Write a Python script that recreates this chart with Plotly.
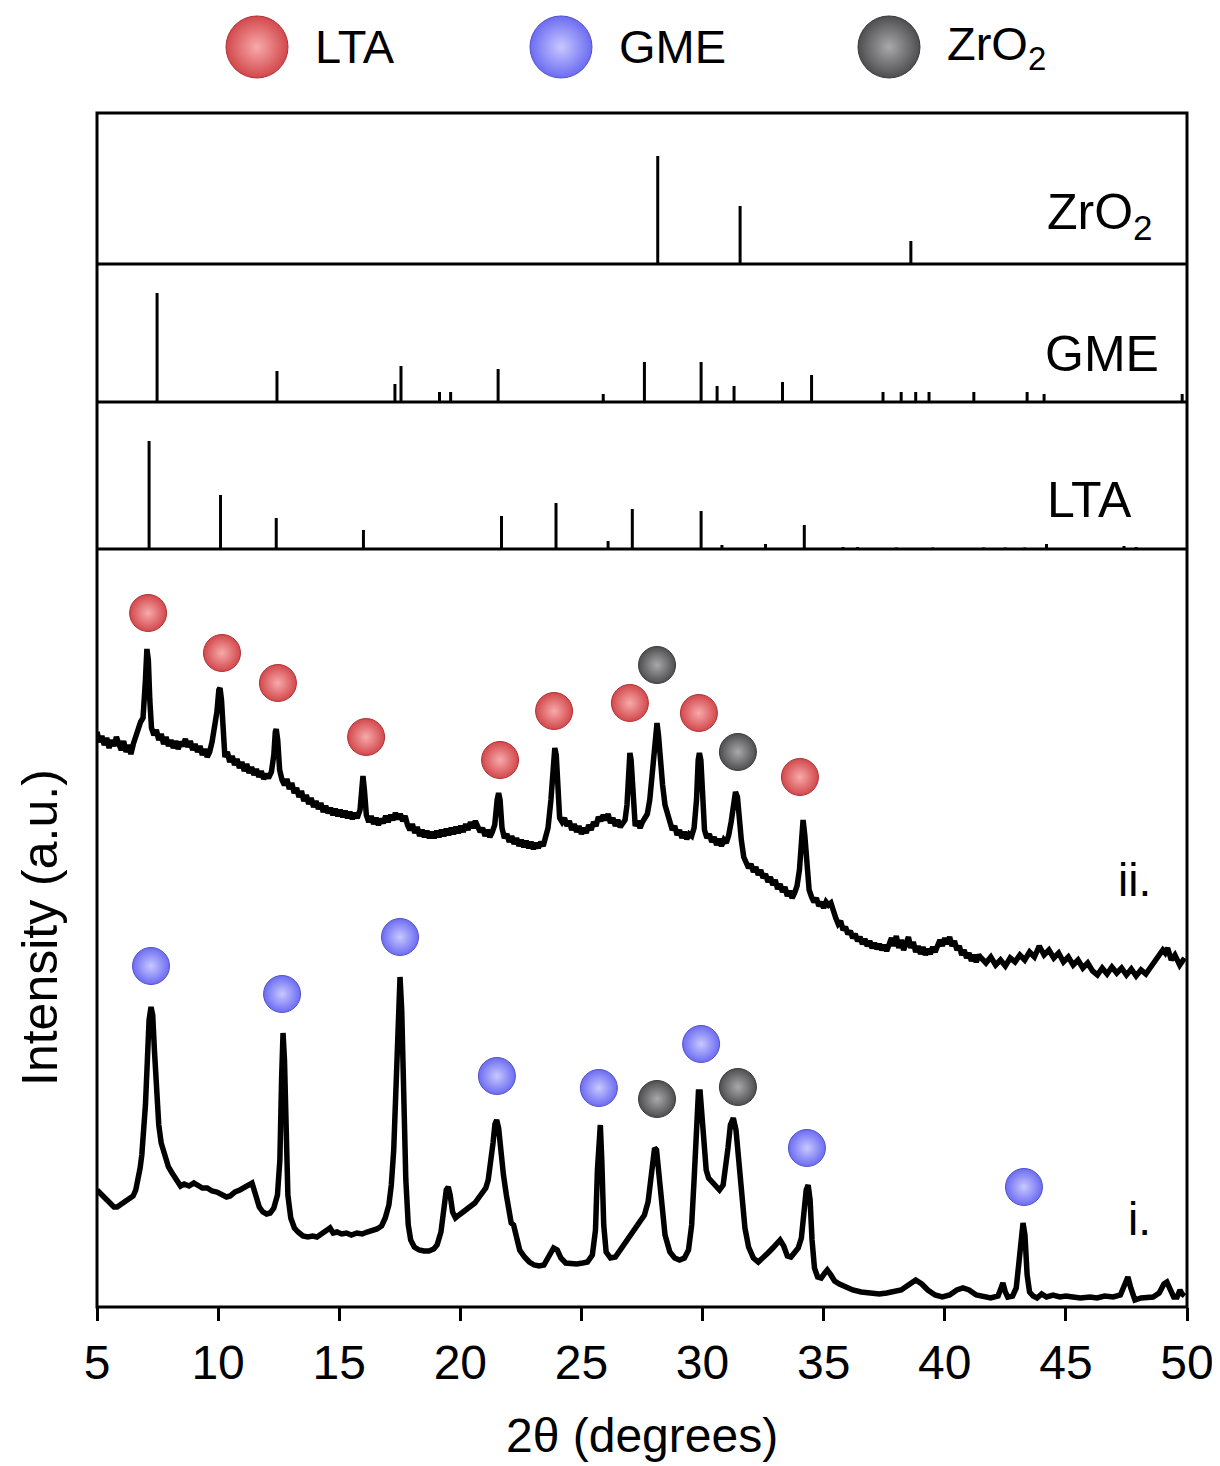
import plotly.graph_objects as go

FONT = "Liberation Sans, Arial, sans-serif"

# ---------------- reference stick patterns ----------------
zro2_pos = [28.15, 31.55, 38.6]
zro2_int = [108, 58, 23]

gme_pos = [7.48, 12.43, 17.3, 17.55, 19.14, 19.6, 21.56, 25.9, 27.6, 29.94, 30.6,
           31.3, 33.3, 34.5, 37.45, 38.2, 38.8, 39.35, 41.2, 43.4, 44.1, 49.8]
gme_int = [109, 31, 18, 36, 10, 10, 33, 8, 40, 40, 16,
           16, 20, 27, 10, 10, 10, 10, 10, 10, 8, 8]

lta_pos = [7.15, 10.1, 12.4, 16.0, 21.7, 23.95, 26.1, 27.1, 29.94, 30.8, 32.6,
           34.2, 35.8, 36.4, 38.0, 39.5, 41.6, 42.5, 43.3, 44.2, 47.4, 47.9]
lta_int = [108, 54, 31, 19, 33, 46, 8, 40, 38, 4, 5,
           24, 2, 2, 1.5, 1.5, 1.5, 1.5, 1.5, 5, 3, 2]

# ---------------- measured pattern ii (upper) ----------------
ii_x = [5.00, 5.10, 5.20, 5.30, 5.40, 5.50, 5.60, 5.70, 5.80, 5.90, 6.00, 6.10, 6.20, 6.30, 6.40,
        6.50, 6.60, 6.70, 6.80, 6.90, 6.95, 7.00, 7.06, 7.12, 7.18, 7.25, 7.35, 7.45, 7.55, 7.65,
        7.75, 7.85, 7.95, 8.05, 8.15, 8.25, 8.35, 8.45, 8.55, 8.65, 8.75, 8.85, 8.95, 9.05, 9.15,
        9.25, 9.35, 9.45, 9.55, 9.65, 9.75, 9.85, 9.95, 10.03, 10.08, 10.14, 10.20, 10.28, 10.38,
        10.48, 10.58, 10.68, 10.78, 10.88, 10.98, 11.08, 11.18, 11.28, 11.38, 11.48, 11.58, 11.68,
        11.78, 11.88, 11.98, 12.08, 12.20, 12.30, 12.36, 12.40, 12.46, 12.54, 12.64, 12.74, 12.84,
        12.94, 13.04, 13.14, 13.24, 13.34, 13.44, 13.54, 13.64, 13.74, 13.84, 13.94, 14.04, 14.14,
        14.24, 14.34, 14.44, 14.54, 14.64, 14.74, 14.84, 14.94, 15.04, 15.14, 15.24, 15.34, 15.44,
        15.54, 15.64, 15.74, 15.86, 15.93, 15.98, 16.04, 16.12, 16.22, 16.32, 16.42, 16.52, 16.62,
        16.72, 16.82, 16.92, 17.02, 17.12, 17.22, 17.32, 17.42, 17.52, 17.62, 17.72, 17.82, 17.92,
        18.02, 18.12, 18.22, 18.32, 18.42, 18.52, 18.62, 18.72, 18.82, 18.92, 19.02, 19.12, 19.22,
        19.32, 19.42, 19.52, 19.62, 19.72, 19.82, 19.92, 20.02, 20.12, 20.22, 20.32, 20.42, 20.52,
        20.62, 20.72, 20.82, 20.92, 21.02, 21.12, 21.22, 21.32, 21.42, 21.52, 21.58, 21.64, 21.72,
        21.82, 21.92, 22.02, 22.12, 22.22, 22.32, 22.42, 22.52, 22.62, 22.72, 22.82, 22.92, 23.02,
        23.12, 23.22, 23.32, 23.42, 23.52, 23.62, 23.74, 23.84, 23.90, 23.96, 24.02, 24.10, 24.20,
        24.30, 24.40, 24.50, 24.60, 24.70, 24.80, 24.90, 25.00, 25.10, 25.20, 25.30, 25.40, 25.50,
        25.60, 25.70, 25.80, 25.90, 26.00, 26.10, 26.20, 26.30, 26.40, 26.50, 26.60, 26.70, 26.80,
        26.88, 26.95, 27.00, 27.05, 27.12, 27.22, 27.32, 27.42, 27.52, 27.62, 27.72, 27.82, 27.92,
        28.00, 28.06, 28.12, 28.18, 28.26, 28.35, 28.45, 28.55, 28.65, 28.75, 28.85, 28.95, 29.05,
        29.15, 29.25, 29.35, 29.45, 29.55, 29.65, 29.75, 29.82, 29.87, 29.93, 30.00, 30.08, 30.18,
        30.28, 30.38, 30.48, 30.58, 30.68, 30.78, 30.88, 30.98, 31.08, 31.18, 31.28, 31.36, 31.44,
        31.52, 31.60, 31.70, 31.80, 31.90, 32.00, 32.10, 32.20, 32.30, 32.40, 32.50, 32.60, 32.70,
        32.80, 32.90, 33.00, 33.10, 33.20, 33.30, 33.40, 33.50, 33.60, 33.70, 33.80, 33.90, 34.00,
        34.08, 34.15, 34.22, 34.30, 34.40, 34.50, 34.60, 34.70, 34.80, 34.90, 35.00, 35.10, 35.20,
        35.30, 35.40, 35.50, 35.60, 35.70, 35.80, 35.90, 36.00, 36.10, 36.20, 36.30, 36.40, 36.50,
        36.60, 36.70, 36.80, 36.90, 37.00, 37.10, 37.20, 37.30, 37.40, 37.50, 37.60, 37.70, 37.80,
        37.90, 38.00, 38.10, 38.20, 38.30, 38.40, 38.50, 38.60, 38.70, 38.80, 38.90, 39.00, 39.10,
        39.20, 39.30, 39.40, 39.50, 39.60, 39.70, 39.80, 39.90, 40.00, 40.10, 40.20, 40.30, 40.40,
        40.50, 40.60, 40.70, 40.80, 40.90, 41.00, 41.10, 41.20, 41.30, 41.40, 41.50, 41.70, 41.90,
        42.10, 42.30, 42.50, 42.70, 42.90, 43.10, 43.30, 43.50, 43.70, 43.90, 44.10, 44.30, 44.50,
        44.70, 44.90, 45.10, 45.30, 45.50, 45.70, 45.90, 46.10, 46.30, 46.50, 46.70, 46.90, 47.10,
        47.30, 47.50, 47.70, 47.90, 48.10, 48.30, 48.50, 48.70, 48.90, 49.00, 49.10, 49.20, 49.35,
        49.50, 49.70, 49.90]
ii_y = [575, 565, 571, 562, 569, 559, 567, 561, 570, 563, 557, 566, 555, 562, 553,
        563, 571, 581, 585, 589, 602, 627, 658, 647, 607, 579, 572, 577, 567, 573,
        563, 570, 561, 567, 559, 566, 558, 565, 561, 568, 560, 566, 557, 563, 555,
        561, 552, 558, 550, 555, 565, 579, 595, 617, 619, 607, 567, 550, 555,
        545, 551, 542, 548, 539, 545, 536, 543, 534, 540, 532, 538, 530,
        536, 528, 533, 529, 535, 552, 575, 578, 567, 537, 527, 522, 528,
        518, 524, 514, 519, 510, 516, 506, 512, 503, 509, 500, 506, 498,
        504, 495, 501, 494, 499, 492, 498, 491, 497, 490, 496, 489, 495,
        488, 494, 489, 497, 522, 531, 517, 492, 485, 491, 483, 489, 482,
        488, 484, 491, 485, 492, 487, 494, 488, 493, 486, 491, 482, 477,
        483, 474, 480, 471, 477, 470, 476, 469, 475, 469, 476, 470, 477,
        471, 478, 472, 479, 473, 480, 474, 481, 475, 483, 477, 485, 479,
        486, 480, 475, 479, 471, 477, 470, 475, 482, 507, 514, 507, 479,
        469, 473, 465, 471, 463, 469, 461, 467, 460, 466, 459, 465, 458,
        464, 459, 465, 461, 469, 479, 507, 547, 559, 552, 517, 489, 485,
        489, 481, 486, 477, 483, 475, 481, 473, 479, 474, 482, 477, 485,
        481, 490, 486, 492, 487, 493, 484, 489, 481, 487, 480, 485, 487,
        502, 542, 554, 547, 507, 481, 486, 479, 485, 489, 493, 507, 532,
        562, 581, 584, 572, 542, 522, 502, 492, 485, 477, 481, 472, 477,
        469, 475, 468, 473, 471, 479, 507, 547, 554, 547, 507, 477, 469,
        473, 465, 470, 462, 468, 461, 467, 464, 472, 485, 507, 515, 510,
        485, 467, 450, 445, 439, 443, 435, 440, 432, 437, 429, 433, 425,
        430, 422, 427, 418, 423, 415, 420, 411, 416, 409, 414, 421, 437,
        472, 487, 472, 437, 417, 410, 405, 409, 401, 405, 399, 405, 402,
        404, 395, 389, 383, 386, 377, 380, 373, 376, 369, 373, 366, 370,
        363, 368, 361, 366, 359, 364, 358, 363, 357, 362, 356, 361, 369,
        361, 371, 359, 367, 357, 363, 370, 359, 365, 355, 361, 353, 360,
        352, 358, 353, 360, 355, 362, 367, 361, 369, 363, 370, 361, 366,
        357, 361, 352, 357, 349, 354, 346, 352, 345, 352, 349, 344, 350,
        342, 347, 341, 349, 345, 352, 347, 355, 350, 361, 352, 357, 349,
        354, 345, 350, 342, 347, 339, 344, 336, 332, 339, 333, 340, 334,
        339, 332, 338, 331, 337, 333, 340, 345, 352, 357, 354, 359, 347,
        352, 342, 349]

# ---------------- measured pattern i (lower) ----------------
i_x = [5.00, 5.12, 5.25, 5.40, 5.55, 5.70, 5.83, 5.95, 6.07, 6.20, 6.35, 6.49, 6.60, 6.70, 6.78,
       6.85, 6.92, 7.00, 7.08, 7.15, 7.23, 7.30, 7.37, 7.45, 7.55, 7.65, 7.80, 7.95, 8.10, 8.30,
       8.45, 8.60, 8.80, 9.00, 9.15, 9.35, 9.55, 9.75, 9.95, 10.15, 10.35, 10.50, 10.70, 10.90,
       11.05, 11.25, 11.40, 11.55, 11.70, 11.85, 12.00, 12.15, 12.30, 12.45, 12.55, 12.62, 12.68,
       12.74, 12.80, 12.88, 13.00, 13.15, 13.30, 13.50, 13.70, 13.90, 14.08, 14.30, 14.50, 14.62,
       14.75, 14.91, 15.10, 15.30, 15.50, 15.73, 15.95, 16.15, 16.40, 16.56, 16.75, 16.90, 17.05,
       17.15, 17.25, 17.35, 17.43, 17.51, 17.58, 17.66, 17.75, 17.85, 17.95, 18.10, 18.30, 18.50,
       18.70, 18.90, 19.04, 19.20, 19.32, 19.42, 19.50, 19.58, 19.68, 19.80, 19.95, 20.10, 20.28,
       20.45, 20.60, 20.75, 20.90, 21.05, 21.15, 21.25, 21.35, 21.43, 21.50, 21.58, 21.68, 21.78,
       21.90, 22.02, 22.10, 22.20, 22.30, 22.45, 22.65, 22.85, 23.05, 23.25, 23.45, 23.65, 23.85,
       24.00, 24.15, 24.35, 24.55, 24.80, 25.05, 25.25, 25.45, 25.58, 25.66, 25.73, 25.78, 25.84,
       25.92, 26.02, 26.20, 26.40, 26.60, 26.80, 27.00, 27.20, 27.40, 27.60, 27.75, 27.85, 27.95,
       28.02, 28.10, 28.18, 28.30, 28.45, 28.65, 28.85, 29.05, 29.25, 29.42, 29.55, 29.65, 29.75,
       29.83, 29.90, 29.97, 30.05, 30.15, 30.25, 30.40, 30.55, 30.70, 30.85, 30.95, 31.05, 31.15,
       31.27, 31.38, 31.50, 31.62, 31.75, 31.90, 32.10, 32.30, 32.50, 32.70, 32.90, 33.05, 33.20,
       33.35, 33.50, 33.65, 33.80, 33.95, 34.08, 34.18, 34.28, 34.36, 34.44, 34.52, 34.62, 34.75,
       34.90, 35.05, 35.15, 35.30, 35.45, 35.65, 35.90, 36.20, 36.55, 36.90, 37.30, 37.60, 37.90,
       38.20, 38.50, 38.80, 39.05, 39.30, 39.60, 39.90, 40.20, 40.50, 40.75, 41.00, 41.30, 41.60,
       41.90, 42.20, 42.30, 42.40, 42.50, 42.60, 42.80, 42.95, 43.05, 43.15, 43.23, 43.31, 43.40,
       43.50, 43.65, 43.81, 44.00, 44.20, 44.47, 44.75, 45.00, 45.29, 45.60, 46.00, 46.28, 46.60,
       46.95, 47.25, 47.45, 47.56, 47.68, 47.85, 48.10, 48.35, 48.60, 48.85, 49.05, 49.17, 49.30,
       49.45, 49.59, 49.71, 49.80, 49.90]
i_y = [117, 114, 110, 107, 103, 100, 100, 102, 104, 106, 108, 111, 117, 127, 139,
       152, 172, 202, 247, 287, 300, 292, 257, 212, 182, 164, 150, 140, 134, 126,
       121, 123, 121, 124, 122, 119, 119, 116, 115, 112, 110, 111, 115, 117,
       119, 122, 124, 112, 100, 95, 93, 94, 99, 112, 147, 227, 274,
       247, 167, 112, 89, 79, 75, 71, 70, 71, 70, 73, 77, 79,
       74, 75, 73, 74, 72, 74, 73, 75, 77, 78, 81, 89, 102,
       122, 157, 217, 297, 330, 297, 207, 127, 82, 67, 60, 57, 56,
       56, 58, 62, 75, 97, 117, 120, 112, 95, 89, 92, 95, 97,
       101, 104, 109, 113, 119, 127, 142, 164, 183, 187, 179, 152, 132,
       112, 92, 84, 82, 71, 57, 50, 45, 42, 41, 42, 52, 59,
       57, 49, 44, 43, 43, 44, 45, 52, 77, 137, 179, 182, 147,
       82, 55, 49, 50, 57, 65, 71, 77, 85, 92, 105, 122, 147,
       159, 157, 137, 102, 72, 55, 49, 47, 49, 57, 82, 127, 187,
       215, 215, 192, 157, 137, 129, 125, 122, 117, 122, 137, 159, 182,
       189, 177, 147, 107, 79, 60, 49, 45, 49, 54, 59, 64, 67,
       61, 51, 50, 55, 59, 69, 92, 117, 122, 107, 67, 39, 30,
       29, 34, 37, 32, 26, 23, 20, 17, 15, 14, 13, 14, 15,
       17, 22, 27, 23, 17, 12, 10, 12, 17, 19, 17, 12, 10,
       9, 11, 17, 24, 15, 10, 11, 19, 42, 75, 84, 72, 32,
       15, 11, 9, 13, 10, 12, 10, 11, 10, 9, 10, 9, 11,
       10, 12, 25, 30, 19, 7, 9, 10, 10, 14, 23, 25, 17,
       10, 10, 17, 13, 11]

# ---------------- phase markers on the measured patterns ----------------
lta_mark_x = [7.11, 10.16, 12.47, 16.11, 21.64, 23.87, 27.00, 29.85, 34.02]
lta_mark_y = [694, 654, 624, 570, 547, 596, 604, 594, 530]
zro2_mark_x = [28.12, 31.46, 28.12, 31.46]
zro2_mark_y = [642, 555, 208, 220]
gme_mark_x = [7.23, 12.64, 17.51, 21.51, 25.72, 29.94, 34.31, 43.27]
gme_mark_y = [341, 313, 370, 231, 219, 263, 159, 120]

x_ticks = [5, 10, 15, 20, 25, 30, 35, 40, 45, 50]

legend_labels = ["LTA", "GME", "ZrO<sub>2</sub>"]
ball_edge = {"LTA": "#d2484c", "GME": "#6c6cf2", "ZrO2": "#4e4e50"}
ball_core = {"LTA": "#f7aaaa", "GME": "#c8c8ff", "ZrO2": "#a9a9ab"}
ball_line = {"LTA": "#b03236", "GME": "#5252c8", "ZrO2": "#3a3a3c"}

# ---------------- layout geometry ----------------
D_MAIN = [0.0, 0.58353]
D_LTA = [0.58353, 0.69669]
D_GME = [0.69669, 0.80293]
D_ZRO = [0.80293, 0.91917]
D_LEG = [0.94, 1.0]


def sticks(pos, inten):
    xs, ys = [], []
    for p, h in zip(pos, inten):
        xs += [p, p, None]
        ys += [0, h, None]
    return xs, ys


def ball(key, size):
    return dict(symbol="circle", size=size, color=ball_edge[key],
                gradient=dict(type="radial", color=ball_core[key]),
                line=dict(color=ball_line[key], width=1))


fig = go.Figure()

for (pos, inten, ya) in [(lta_pos, lta_int, "y2"), (gme_pos, gme_int, "y3"), (zro2_pos, zro2_int, "y4")]:
    sx, sy = sticks(pos, inten)
    fig.add_trace(go.Scatter(x=sx, y=sy, mode="lines", xaxis="x", yaxis=ya,
                             line=dict(color="black", width=3), showlegend=False,
                             hoverinfo="skip"))

fig.add_trace(go.Scatter(x=ii_x, y=ii_y, mode="lines", line=dict(color="black", width=5.5),
                         showlegend=False))
fig.add_trace(go.Scatter(x=i_x, y=i_y, mode="lines", line=dict(color="black", width=5.5),
                         showlegend=False))

fig.add_trace(go.Scatter(x=lta_mark_x, y=lta_mark_y, mode="markers", marker=ball("LTA", 37),
                         showlegend=False))
fig.add_trace(go.Scatter(x=zro2_mark_x, y=zro2_mark_y, mode="markers", marker=ball("ZrO2", 37),
                         showlegend=False))
fig.add_trace(go.Scatter(x=gme_mark_x, y=gme_mark_y, mode="markers", marker=ball("GME", 37),
                         showlegend=False))

# custom legend row
leg_keys = ["LTA", "GME", "ZrO2"]
leg_x = [0.1468, 0.4257, 0.7266]
for k, lx, lab in zip(leg_keys, leg_x, legend_labels):
    fig.add_trace(go.Scatter(x=[lx], y=[0], mode="markers", xaxis="x2", yaxis="y5",
                             marker=ball(k, 62), showlegend=False))
    fig.add_annotation(x=lx + 0.0514, y=0, xref="x2", yref="y5", text=lab,
                       showarrow=False, xanchor="left", yanchor="middle",
                       font=dict(family=FONT, size=47, color="black"))

# frame
shapes = [dict(type="rect", xref="paper", yref="paper", x0=0, x1=1, y0=0, y1=D_ZRO[1],
               line=dict(color="black", width=3))]
for yy in [D_MAIN[1], D_LTA[1], D_GME[1]]:
    shapes.append(dict(type="line", xref="paper", yref="paper", x0=0, x1=1, y0=yy, y1=yy,
                       line=dict(color="black", width=3)))

ann = [
    dict(text="ZrO<sub>2</sub>", x=0.9706, y=0.8406, size=50),
    dict(text="GME", x=0.9761, y=0.7336, size=50),
    dict(text="LTA", x=0.9514, y=0.6212, size=50),
    dict(text="ii.", x=0.9688, y=0.3287, size=46),
    dict(text="i.", x=0.9688, y=0.0677, size=46),
]
for a in ann:
    fig.add_annotation(x=a["x"], y=a["y"], xref="paper", yref="paper", text=a["text"],
                       showarrow=False, xanchor="right", yanchor="middle",
                       font=dict(family=FONT, size=a["size"], color="black"))

fig.add_annotation(text="2θ (degrees)", x=0.5, y=0, xref="paper", yref="paper",
                   yshift=-128, showarrow=False, yanchor="middle",
                   font=dict(family=FONT, size=48, color="black"))
fig.add_annotation(text="Intensity (a.u.)", x=0, y=D_MAIN[1] / 2, xref="paper", yref="paper",
                   xshift=-57, showarrow=False, textangle=-90, xanchor="center", yanchor="middle",
                   font=dict(family=FONT, size=50, color="black"))

hidden = dict(visible=False, showgrid=False, zeroline=False, fixedrange=True)
fig.update_layout(
    width=1220, height=1466,
    margin=dict(l=89, r=41, t=0, b=167),
    paper_bgcolor="white", plot_bgcolor="white",
    font=dict(family=FONT, color="black"),
    showlegend=False,
    shapes=shapes,
    xaxis=dict(range=[5, 50], domain=[0, 1], anchor="y", tickmode="array", tickvals=x_ticks,
               ticks="outside", ticklen=13, tickwidth=3, tickcolor="black",
               showline=False, showgrid=False, zeroline=False,
               tickfont=dict(family=FONT, size=48, color="black")),
    yaxis=dict(range=[0, 758], domain=D_MAIN, anchor="x", **hidden),
    yaxis2=dict(range=[0, 147], domain=D_LTA, anchor="x", **hidden),
    yaxis3=dict(range=[0, 138], domain=D_GME, anchor="x", **hidden),
    yaxis4=dict(range=[0, 151], domain=D_ZRO, anchor="x", **hidden),
    xaxis2=dict(range=[0, 1], domain=[0, 1], anchor="y5", **hidden),
    yaxis5=dict(range=[-1, 1], domain=D_LEG, anchor="x2", **hidden),
)

fig.write_html("out.html")
